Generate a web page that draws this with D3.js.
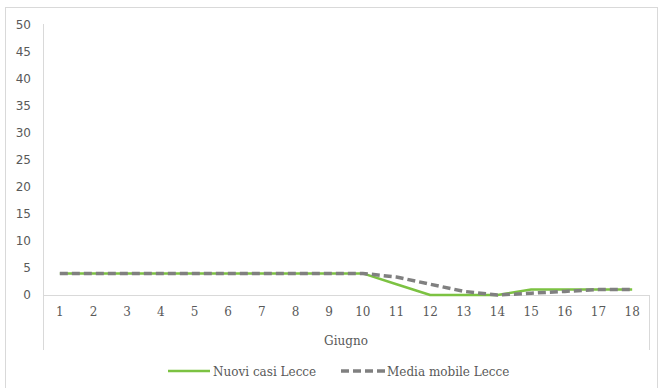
<!DOCTYPE html>
<html><head><meta charset="utf-8">
<script src="https://cdn.jsdelivr.net/npm/d3@7"></script>
<style>body{margin:0;background:#fff}svg{display:block}</style>
</head><body>
<svg id="c" width="664" height="388"></svg>
<script>
const days = ["1","2","3","4","5","6","7","8","9","10","11","12","13","14","15","16","17","18"];
const nuoviCasi = [4,4,4,4,4,4,4,4,4,4,2,0,0,0,1,1,1,1];
const mediaMobile = [4,4,4,4,4,4,4,4,4,4,3.33,2,0.67,0,0.33,0.67,1,1];
const yTicks = [0,5,10,15,20,25,30,35,40,45,50];
const seriesNames = ["Nuovi casi Lecce","Media mobile Lecce"];
const groupLabel = "Giugno";

const svg = d3.select("#c");
const L = 43, R = 649, T = 25, B = 295;
const axisCol = "#d9d9d9", txtCol = "#595959";
const serif = "'DejaVu Serif', serif";

svg.append("rect").attr("x",5.5).attr("y",7.5).attr("width",652).attr("height",392)
  .attr("fill","none").attr("stroke",axisCol);

const x = d3.scaleBand().domain(days).range([L,R]);
const y = d3.scaleLinear().domain([0,50]).range([B,T]);

// y axis
const ya = svg.append("g").attr("transform",`translate(${L},0)`)
  .call(d3.axisLeft(y).tickValues(yTicks).tickSize(0).tickPadding(12));
ya.select(".domain").remove();
ya.selectAll("text").attr("fill",txtCol).style("font-family","'DejaVu Sans', sans-serif").style("font-size","12px");
svg.append("line").attr("x1",L+0.5).attr("x2",L+0.5).attr("y1",T-1).attr("y2",350).attr("stroke",axisCol);

// x axis
const xa = svg.append("g").attr("transform",`translate(0,${B})`)
  .call(d3.axisBottom(x).tickSize(0).tickPadding(12));
xa.select(".domain").remove();
xa.selectAll("text").attr("fill",txtCol).style("font-family",serif).style("font-size","12px");
svg.append("line").attr("x1",L).attr("x2",R).attr("y1",B+0.5).attr("y2",B+0.5).attr("stroke",axisCol);
svg.append("line").attr("x1",R+0.5).attr("x2",R+0.5).attr("y1",B).attr("y2",350).attr("stroke",axisCol);
svg.append("text").attr("x",(L+R)/2).attr("y",345).attr("text-anchor","middle")
  .attr("fill",txtCol).style("font-family",serif).style("font-size","12px").text(groupLabel);

const line = d3.line().x((d,i)=>x(days[i])+x.bandwidth()/2).y(d=>y(d));
svg.append("path").datum(nuoviCasi).attr("d",line).attr("fill","none")
  .attr("stroke","#7cc242").attr("stroke-width",2.5).attr("stroke-linejoin","round");
svg.append("path").datum(mediaMobile).attr("d",line).attr("fill","none")
  .attr("stroke","#808080").attr("stroke-width",3.5).attr("stroke-dasharray","8,4");

// legend
const lg = svg.append("g").style("font-family",serif).style("font-size","12px");
lg.append("line").attr("x1",168).attr("x2",210).attr("y1",371).attr("y2",371).attr("stroke","#7cc242").attr("stroke-width",2.5);
lg.append("text").attr("x",213).attr("y",375.5).attr("fill",txtCol).text(seriesNames[0]);
lg.append("line").attr("x1",341).attr("x2",385).attr("y1",371).attr("y2",371).attr("stroke","#808080").attr("stroke-width",3.5).attr("stroke-dasharray","8,4");
lg.append("text").attr("x",387).attr("y",375.5).attr("fill",txtCol).text(seriesNames[1]);
</script>
</body></html>
